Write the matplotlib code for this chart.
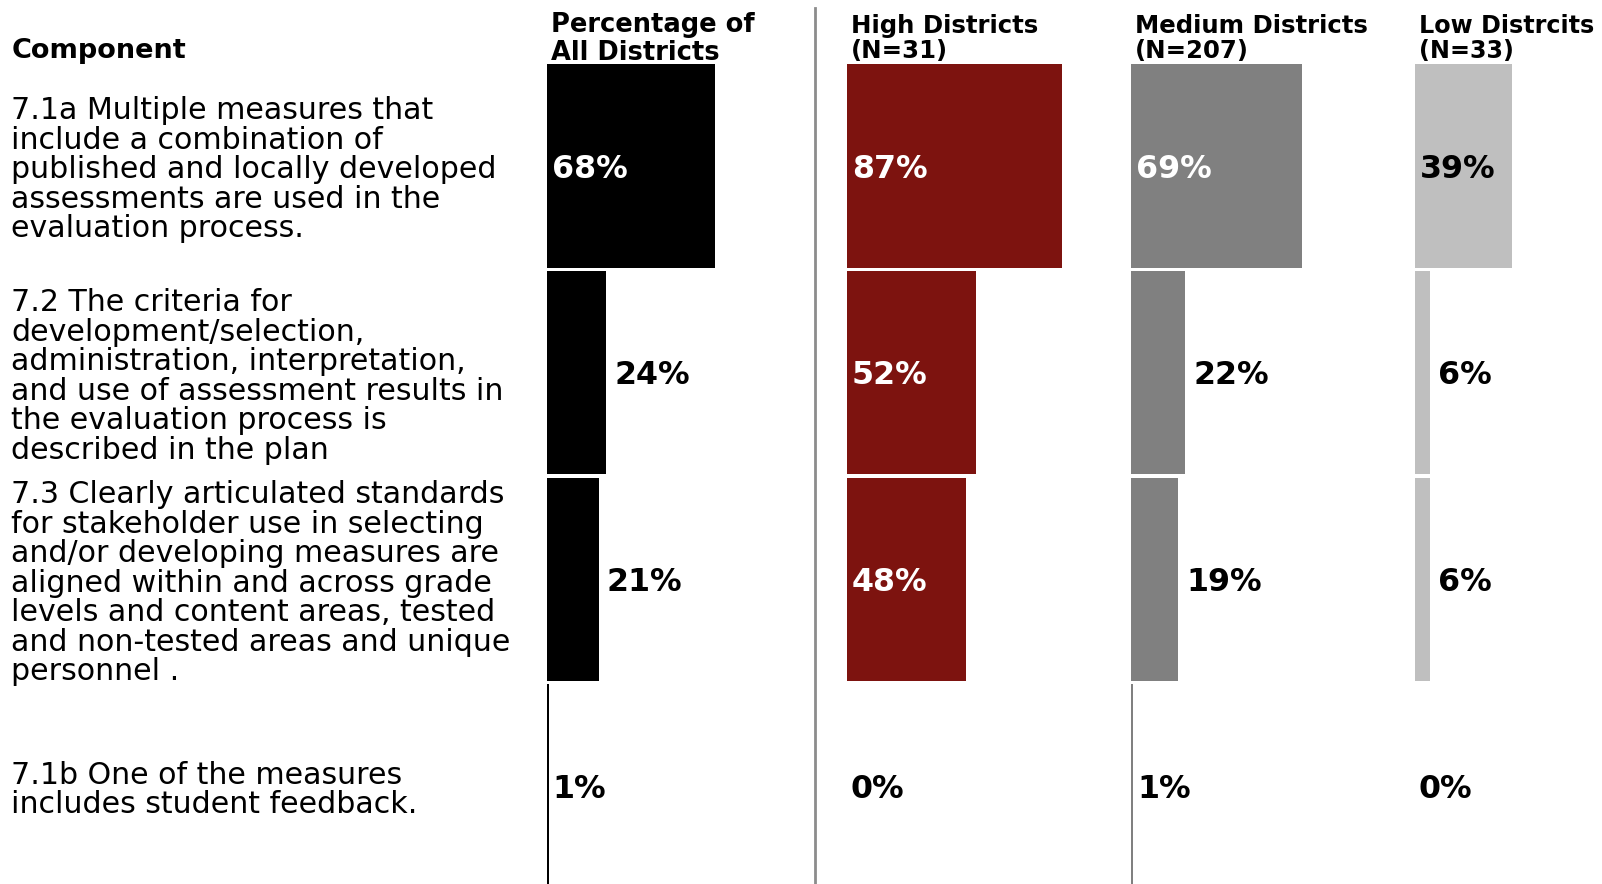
import matplotlib
matplotlib.use("Agg")
import matplotlib.pyplot as plt
from matplotlib.transforms import blended_transform_factory

# ---------------- data ----------------
components = [
    "7.1a Multiple measures that\ninclude a combination of\npublished and locally developed\nassessments are used in the\nevaluation process.",
    "7.2 The criteria for\ndevelopment/selection,\nadministration, interpretation,\nand use of assessment results in\nthe evaluation process is\ndescribed in the plan",
    "7.3 Clearly articulated standards\nfor stakeholder use in selecting\nand/or developing measures are\naligned within and across grade\nlevels and content areas, tested\nand non-tested areas and unique\npersonnel .",
    "7.1b One of the measures\nincludes student feedback.",
]
panel_titles = [
    "Percentage of\nAll Districts",
    "High Districts\n(N=31)",
    "Medium Districts\n(N=207)",
    "Low Distrcits\n(N=33)",
]
all_districts = [68, 24, 21, 1]
high_districts = [87, 52, 48, 0]
medium_districts = [69, 22, 19, 1]
low_districts = [39, 6, 6, 0]
series = [all_districts, high_districts, medium_districts, low_districts]
colors = ["#000000", "#7D130F", "#808080", "#BFBFBF"]
text_on_bar = ["white", "white", "white", "black"]

# ---------------- layout ----------------
W, H = 1602, 884
fig = plt.figure(figsize=(W / 100, H / 100), dpi=100)
fig.patch.set_facecolor("white")

ppp = 2.4725                      # pixels per percentage point
lefts = [546.6, 847.0, 1131.0, 1415.1]
ax_top = 62.7
row_pitch = 206.7
row0_center = 166.0
bar_h = 0.984
ylim_bottom = (H - row0_center) / row_pitch
ylim_top = -0.5 - (row0_center - row_pitch / 2 - ax_top) / row_pitch

FONT = "DejaVu Sans"
title_sizes = [18.5, 17.6, 17.6, 17.2]
axes = []
for i, (vals, col) in enumerate(zip(series, colors)):
    left = lefts[i]
    width = min(265, W - left)
    ax = fig.add_axes([left / W, 0, width / W, (H - ax_top) / H])
    ax.set_xlim(0, width / ppp)
    ax.set_ylim(ylim_bottom, ylim_top)
    ax.barh(range(len(vals)), vals, height=bar_h, color=col, linewidth=0)
    ax.axis("off")
    for r, v in enumerate(vals):
        if v >= 30:
            x, c = 2.0, text_on_bar[i]
        elif v >= 5:
            x, c = v + 3.4, "black"
        else:
            x, c = v + 1.4, "black"
        ax.text(x, r + 0.015, f"{v}%", ha="left", va="center", fontsize=22.8,
                fontweight="bold", color=c, family=FONT)
    fig.text((left + 4) / W, 1 - 38.5 / H, panel_titles[i], ha="left",
             va="center", fontsize=title_sizes[i], fontweight="bold",
             family=FONT, linespacing=1.1)
    axes.append(ax)

# component labels
tr = blended_transform_factory(fig.transFigure, axes[0].transData)
for r, lab in enumerate(components):
    axes[0].text(11.2 / W, r + 0.018, lab, transform=tr, ha="left",
                 va="center", fontsize=21.6, family=FONT, linespacing=1.02,
                 clip_on=False)

fig.text(11.2 / W, 1 - 51.5 / H, "Component", ha="left", va="center",
         fontsize=19.5, fontweight="bold", family=FONT)

# vertical divider
fig.add_artist(plt.Line2D([815 / W, 815 / W], [0, 1 - 8.2 / H],
                          transform=fig.transFigure, color="#8C8C8C", lw=2))

fig.savefig("out.png", dpi=100, facecolor="white")
